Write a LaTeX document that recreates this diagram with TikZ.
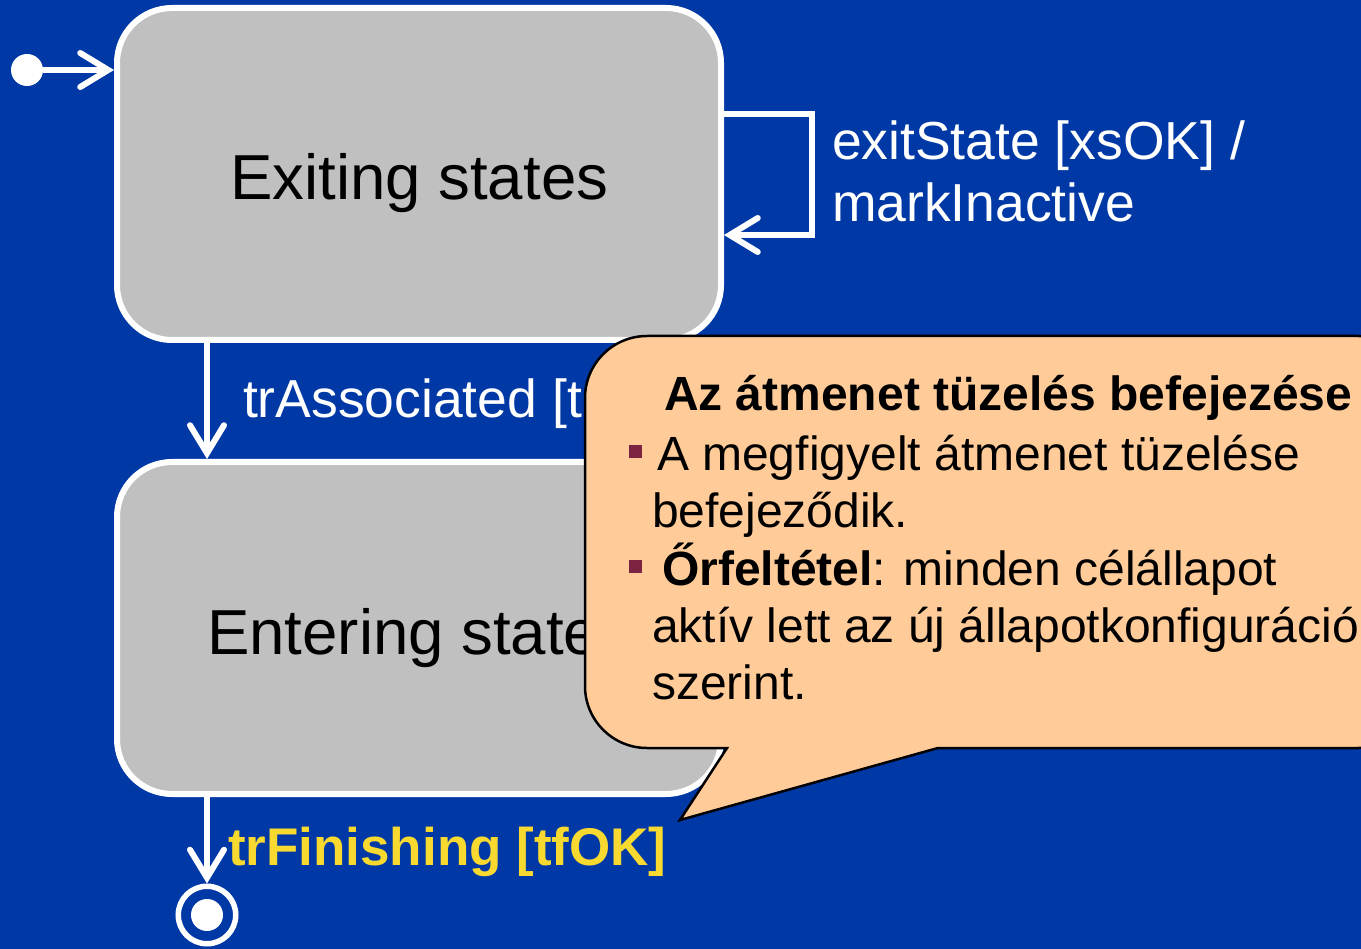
\documentclass[tikz,border=0pt]{standalone}
\usepackage{fontspec}
\setmainfont{Liberation Sans}
\usetikzlibrary{arrows.meta}
\definecolor{bg}{HTML}{0039A6}
\definecolor{stategray}{HTML}{C0C0C0}
\definecolor{notefill}{HTML}{FFCC99}
\definecolor{bulletred}{HTML}{7B2340}
\definecolor{guardyellow}{HTML}{F8D930}
\newcommand{\fsz}[1]{\fontsize{#1}{#1}\selectfont}
\tikzset{
  statebox/.style={draw=white, fill=stategray, line width=6pt, rounded corners=55pt,
    minimum width=604pt, minimum height=332pt, inner sep=0pt},
  tr/.style={draw=white, line width=6pt,
    -{Straight Barb[length=28pt, width=34pt, line cap=round]}},
  lbl/.style={anchor=base west, inner sep=0pt, outer sep=0pt},
  bigtxt/.style={lbl, font=\fsz{63.6}},
  midtxt/.style={lbl, font=\fsz{53.5}, text=white},
  notetxt/.style={lbl, font=\fsz{48}},
  bullet/.style={fill=bulletred, minimum size=13pt, inner sep=0pt}
}
\begin{document}
\begin{tikzpicture}[x=1pt, y=-1pt]
\useasboundingbox (0,0) rectangle (1361,949);
\clip (0,0) rectangle (1361,949);
\fill[bg] (0,0) rectangle (1361,949);

% states
\node[statebox] (exiting) at (419,174) {};
\node[statebox] (entering) at (419,628) {};
\node[bigtxt] (exitingtxt) at (230,200) {Exiting states};
\node[bigtxt] (enteringtxt) at (207,654) {Entering states};

% pseudostates
\node[circle, fill=white, minimum size=32pt, inner sep=0pt] (init) at (27,70) {};
\node[circle, draw=white, line width=5.5pt, minimum size=57.5pt, inner sep=0pt] (fin) at (207,915) {};
\node[circle, fill=white, minimum size=32pt, inner sep=0pt] (findot) at (fin.center) {};

% transitions
\draw[tr] (init) -- (init -| exiting.west);
\coordinate (loopA) at (812,114);
\coordinate (loopB) at (812,235);
\draw[tr] (exiting.east |- loopA) -- (loopA) -- (loopB) -- (exiting.east |- loopB);
\draw[tr] (fin |- exiting.south) -- (fin |- entering.north);
\draw[tr] (fin |- entering.south) -- (fin.north);

% transition labels
\node[midtxt] (looplbl1) at (832,160) {exitState [xsOK] /};
\node[midtxt] (looplbl2) at (832,222) {markInactive};
\node[midtxt] (assoclbl) at (243,418) {trAssociated [t};
\node[lbl, font=\fsz{53}\bfseries, text=guardyellow] (finlbl) at (228,865) {trFinishing [tfOK]};

% callout note
\draw[fill=notefill, draw=black, line width=2.5pt]
  (680,820) -- (727,748) [rounded corners=62pt] -- (585,748) -- (585,336)
  -- (1420,336) -- (1420,748) [sharp corners] -- (938,748) -- cycle;
\node[notetxt, font=\fsz{48}\bfseries] (notetitle) at (664,411) {Az átmenet tüzelés befejezése};
\node[bullet] (b1) at (635,452) {};
\node[notetxt] (n1) at (657,471) {A megfigyelt átmenet tüzelése};
\node[notetxt] (n2) at (652,528) {befejeződik.};
\node[bullet] (b2) at (635,566) {};
\node[notetxt] (n3) at (662,585) {\textbf{Őrfeltétel}: minden célállapot};
\node[notetxt] (n4) at (652,642) {aktív lett az új állapotkonfiguráció};
\node[notetxt] (n5) at (652,699) {szerint.};
\end{tikzpicture}
\end{document}
